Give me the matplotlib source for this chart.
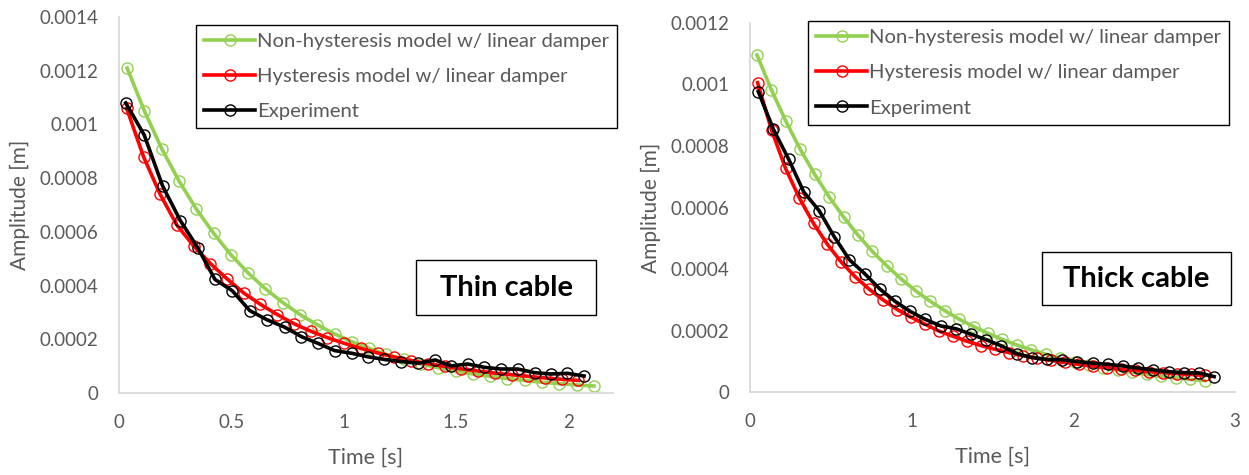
import matplotlib.pyplot as plt
from matplotlib.patches import Rectangle

plt.rcParams['font.family'] = ['Lato', 'DejaVu Sans']

# ---- thin cable ----
thin_t_nonhys = [0.036, 0.113, 0.190, 0.267, 0.344, 0.421, 0.498, 0.575, 0.652, 0.729,
                 0.806, 0.883, 0.960, 1.037, 1.114, 1.191, 1.268, 1.345, 1.422, 1.499,
                 1.576, 1.653, 1.730, 1.807, 1.884, 1.961, 2.038, 2.115]
thin_a_nonhys = [0.00121, 0.00105, 0.000910, 0.000790, 0.000685, 0.000595, 0.000515, 0.000447,
                 0.000388, 0.000337, 0.000292, 0.000254, 0.000220, 0.000191, 0.000166, 0.000144,
                 0.000125, 0.000108, 0.000094, 0.000082, 0.000071, 0.000062, 0.000054, 0.000047,
                 0.000040, 0.000035, 0.000030, 0.000026]

thin_t_hys = [0.034, 0.109, 0.183, 0.258, 0.332, 0.407, 0.481, 0.556, 0.630, 0.705,
              0.779, 0.854, 0.928, 1.003, 1.077, 1.152, 1.226, 1.301, 1.375, 1.450,
              1.524, 1.599, 1.673, 1.748, 1.822, 1.897, 1.971, 2.046]
thin_a_hys = [0.00106, 0.000880, 0.000740, 0.000625, 0.000548, 0.000482, 0.000425, 0.000372,
              0.000330, 0.000292, 0.000258, 0.000230, 0.000206, 0.000185, 0.000166, 0.000149,
              0.000134, 0.000121, 0.000109, 0.000099, 0.000090, 0.000082, 0.000074, 0.000068,
              0.000062, 0.000056, 0.000051, 0.000047]

thin_t_exp = [0.030, 0.112, 0.194, 0.273, 0.352, 0.427, 0.504, 0.582, 0.661, 0.738,
              0.812, 0.886, 0.960, 1.036, 1.108, 1.182, 1.256, 1.333, 1.408, 1.479,
              1.553, 1.627, 1.701, 1.775, 1.852, 1.923, 1.997, 2.071]
thin_a_exp = [0.00108, 0.000961, 0.000771, 0.000642, 0.000539, 0.000423, 0.000381, 0.000307,
              0.000272, 0.000245, 0.000210, 0.000185, 0.000158, 0.000148, 0.000135, 0.000125,
              0.000117, 0.000111, 0.000123, 0.000101, 0.000108, 0.0000957, 0.0000894, 0.0000894,
              0.0000757, 0.0000708, 0.0000733, 0.0000633]

# ---- thick cable ----
thick_t_nonhys = [0.043, 0.132, 0.222, 0.311, 0.400, 0.490, 0.579, 0.668, 0.757, 0.847,
                  0.936, 1.025, 1.115, 1.204, 1.293, 1.383, 1.472, 1.561, 1.650, 1.740,
                  1.829, 1.918, 2.008, 2.097, 2.186, 2.276, 2.365, 2.454, 2.544, 2.633,
                  2.722, 2.812]
thick_a_nonhys = [0.001096, 0.000983, 0.000880, 0.000789, 0.000708, 0.000634, 0.000569, 0.000510,
                  0.000457, 0.000410, 0.000367, 0.000329, 0.000295, 0.000265, 0.000237, 0.000213,
                  0.000191, 0.000171, 0.000153, 0.000137, 0.000123, 0.000110, 0.000099, 0.000089,
                  0.000079, 0.000071, 0.000064, 0.000057, 0.000051, 0.000046, 0.000041, 0.000037]

thick_t_hys = [0.047, 0.133, 0.220, 0.306, 0.393, 0.479, 0.565, 0.652, 0.738, 0.825,
               0.911, 0.997, 1.084, 1.170, 1.257, 1.343, 1.429, 1.516, 1.602, 1.689,
               1.775, 1.861, 1.948, 2.034, 2.121, 2.207, 2.293, 2.380, 2.466, 2.553,
               2.639, 2.725, 2.812]
thick_a_hys = [0.001006, 0.000852, 0.000727, 0.000630, 0.000548, 0.000480, 0.000422, 0.000374,
               0.000334, 0.000299, 0.000268, 0.000243, 0.000220, 0.000198, 0.000181, 0.000165,
               0.000151, 0.000139, 0.000128, 0.000118, 0.000110, 0.000103, 0.000096, 0.000090,
               0.000084, 0.000079, 0.000074, 0.000070, 0.000066, 0.000063, 0.000060, 0.000057,
               0.000054]

thick_t_exp = [0.051, 0.145, 0.239, 0.333, 0.427, 0.521, 0.615, 0.709, 0.803, 0.897,
               0.991, 1.085, 1.179, 1.273, 1.367, 1.461, 1.555, 1.649, 1.743, 1.837,
               1.931, 2.025, 2.119, 2.213, 2.307, 2.401, 2.495, 2.589, 2.683, 2.777,
               2.871]
thick_a_exp = [0.000977, 0.000854, 0.000757, 0.000650, 0.000590, 0.000505, 0.000430, 0.000385,
               0.000335, 0.000295, 0.000262, 0.000236, 0.000215, 0.000206, 0.000188, 0.000170,
               0.000150, 0.000125, 0.000112, 0.000106, 0.000105, 0.000099, 0.000094, 0.000090,
               0.000085, 0.000078, 0.000072, 0.000066, 0.000063, 0.000062, 0.000050]

labels = ['Non-hysteresis model w/ linear damper', 'Hysteresis model w/ linear damper', 'Experiment']
colors = ['#92D050', '#FF0000', '#000000']
gray = '#595959'

fig = plt.figure(figsize=(12.49, 4.75), dpi=100)
ax1 = fig.add_axes([0.0953, 0.1726, 0.3955, 0.7916])
ax2 = fig.add_axes([0.6005, 0.1747, 0.3883, 0.7769])


def draw(ax, series, xlim, ylim, yticks, ytl, xticks, xtl, title, box, leg_pos):
    for (t, a), lab, c in zip(series, labels, colors):
        ax.plot(t, a, color=c, lw=2.6, marker='o', ms=8, mfc='none', mec=c, mew=1.0,
                label=lab)
    ax.set_xlim(*xlim)
    ax.set_ylim(*ylim)
    ax.set_yticks(yticks)
    ax.set_yticklabels(ytl)
    ax.set_xticks(xticks)
    ax.set_xticklabels(xtl)
    ax.tick_params(length=0, labelsize=13.5, labelcolor=gray)
    ax.tick_params(axis='y', pad=15)
    ax.tick_params(axis='x', pad=15)
    for s in ['top', 'right']:
        ax.spines[s].set_visible(False)
    for s in ['left', 'bottom']:
        ax.spines[s].set_color('#D9D9D9')
        ax.spines[s].set_linewidth(1.3)
    ax.set_xlabel('Time [s]', fontsize=15.5, color=gray, labelpad=12)
    ax.set_ylabel('Amplitude [m]', fontsize=15, color=gray, labelpad=7)
    leg = ax.legend(loc='upper left', bbox_to_anchor=leg_pos, fontsize=14.6, frameon=True,
                    fancybox=False, edgecolor='black', framealpha=1, handlelength=2.5,
                    labelspacing=0.88, borderpad=0.4, handletextpad=0.1, borderaxespad=0)
    leg.get_frame().set_linewidth(1.0)
    for txt in leg.get_texts():
        txt.set_color(gray)
    x0, x1, y0, y1 = box
    ax.add_patch(Rectangle((x0, y0), x1 - x0, y1 - y0, transform=ax.transAxes,
                           fc='white', ec='black', lw=1.0, zorder=5))
    ax.text((x0 + x1) / 2, (y0 + y1) / 2, title, transform=ax.transAxes, ha='center',
            va='center', fontsize=21, fontweight='bold', color='black', zorder=6)


draw(ax1,
     [(thin_t_nonhys, thin_a_nonhys), (thin_t_hys, thin_a_hys), (thin_t_exp, thin_a_exp)],
     (0, 2.2), (0, 0.0014),
     [0, 0.0002, 0.0004, 0.0006, 0.0008, 0.001, 0.0012, 0.0014],
     ['0', '0.0002', '0.0004', '0.0006', '0.0008', '0.001', '0.0012', '0.0014'],
     [0, 0.5, 1, 1.5, 2], ['0', '0.5', '1', '1.5', '2'],
     'Thin cable', (0.601, 0.966, 0.207, 0.354), (0.156, 0.979))

draw(ax2,
     [(thick_t_nonhys, thick_a_nonhys), (thick_t_hys, thick_a_hys), (thick_t_exp, thick_a_exp)],
     (0, 3), (0, 0.0012),
     [0, 0.0002, 0.0004, 0.0006, 0.0008, 0.001, 0.0012],
     ['0', '0.0002', '0.0004', '0.0006', '0.0008', '0.001', '0.0012'],
     [0, 1, 2, 3], ['0', '1', '2', '3'],
     'Thick cable', (0.602, 0.992, 0.236, 0.379), (0.12, 1.005))

fig.savefig('out.png', dpi=100)
